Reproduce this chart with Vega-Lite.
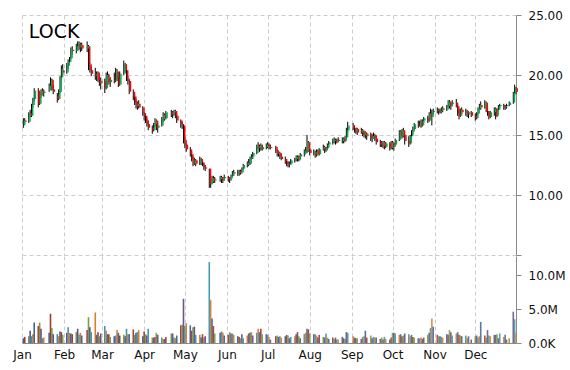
{
  "$schema": "https://vega.github.io/schema/vega-lite/v6.json",
  "padding": {"left": 12, "top": 9, "right": 2, "bottom": 2},
  "background": "white",
  "config": {
    "view": {"stroke": null},
    "font": "DejaVu Sans",
    "axis": {"labelFont": "DejaVu Sans", "labelFontSize": 12, "labelColor": "#111111", "gridColor": "#cccccc", "gridDash": [4, 3], "domainColor": "#8a8a8a", "tickColor": "#8a8a8a", "title": null}
  },
  "data": {"values": [
    {"d":"2014-01-02","o":15.8,"h":16.4,"l":15.6,"c":16.2,"v":0.7},
    {"d":"2014-01-03","o":16.2,"h":16.4,"l":15.9,"c":16.1,"v":0.9},
    {"d":"2014-01-06","o":16.1,"h":16.9,"l":16.0,"c":16.8,"v":1.0},
    {"d":"2014-01-07","o":16.8,"h":17.1,"l":16.5,"c":16.6,"v":1.8},
    {"d":"2014-01-08","o":16.6,"h":17.6,"l":16.5,"c":17.5,"v":1.0},
    {"d":"2014-01-09","o":17.5,"h":18.1,"l":17.3,"c":18.0,"v":1.3},
    {"d":"2014-01-10","o":18.0,"h":18.9,"l":17.8,"c":18.7,"v":3.0},
    {"d":"2014-01-13","o":18.7,"h":18.9,"l":17.3,"c":17.6,"v":2.5},
    {"d":"2014-01-14","o":17.6,"h":18.5,"l":17.5,"c":18.3,"v":3.0},
    {"d":"2014-01-15","o":18.3,"h":18.8,"l":18.1,"c":18.7,"v":2.1},
    {"d":"2014-01-16","o":18.7,"h":18.9,"l":18.3,"c":18.5,"v":0.7},
    {"d":"2014-01-17","o":18.5,"h":18.8,"l":18.2,"c":18.6,"v":0.8},
    {"d":"2014-01-21","o":18.7,"h":19.3,"l":18.6,"c":19.1,"v":1.5},
    {"d":"2014-01-22","o":19.1,"h":19.8,"l":18.9,"c":19.6,"v":4.3},
    {"d":"2014-01-23","o":19.6,"h":19.7,"l":18.7,"c":18.8,"v":2.2},
    {"d":"2014-01-24","o":18.8,"h":19.2,"l":18.4,"c":18.6,"v":1.3},
    {"d":"2014-01-27","o":18.3,"h":18.5,"l":17.7,"c":18.0,"v":1.3},
    {"d":"2014-01-28","o":18.0,"h":18.8,"l":17.9,"c":18.6,"v":1.0},
    {"d":"2014-01-29","o":18.6,"h":19.9,"l":18.5,"c":19.8,"v":1.7},
    {"d":"2014-01-30","o":19.8,"h":20.8,"l":19.6,"c":20.5,"v":1.6},
    {"d":"2014-01-31","o":20.4,"h":20.9,"l":20.0,"c":20.2,"v":1.2},
    {"d":"2014-02-03","o":20.2,"h":21.0,"l":20.1,"c":20.8,"v":1.5},
    {"d":"2014-02-04","o":20.8,"h":21.3,"l":20.5,"c":21.1,"v":2.3},
    {"d":"2014-02-05","o":21.1,"h":21.5,"l":20.8,"c":21.4,"v":1.5},
    {"d":"2014-02-06","o":21.4,"h":22.3,"l":21.3,"c":22.1,"v":1.4},
    {"d":"2014-02-07","o":22.1,"h":22.4,"l":21.7,"c":22.0,"v":1.3},
    {"d":"2014-02-10","o":22.0,"h":22.6,"l":21.8,"c":22.4,"v":1.6},
    {"d":"2014-02-11","o":22.4,"h":22.8,"l":22.0,"c":22.6,"v":2.1},
    {"d":"2014-02-12","o":22.6,"h":22.8,"l":22.1,"c":22.3,"v":1.2},
    {"d":"2014-02-13","o":22.3,"h":22.7,"l":21.9,"c":22.5,"v":1.5},
    {"d":"2014-02-14","o":22.5,"h":22.7,"l":22.0,"c":22.2,"v":1.1},
    {"d":"2014-02-18","o":22.2,"h":22.8,"l":21.9,"c":22.4,"v":1.9},
    {"d":"2014-02-19","o":22.4,"h":22.5,"l":20.4,"c":20.9,"v":3.8},
    {"d":"2014-02-20","o":20.9,"h":21.0,"l":20.2,"c":20.4,"v":2.3},
    {"d":"2014-02-21","o":20.4,"h":20.7,"l":19.9,"c":20.1,"v":1.6},
    {"d":"2014-02-24","o":20.1,"h":20.6,"l":19.6,"c":19.9,"v":4.5},
    {"d":"2014-02-25","o":19.9,"h":20.3,"l":19.5,"c":20.2,"v":1.2},
    {"d":"2014-02-26","o":20.2,"h":20.3,"l":19.4,"c":19.6,"v":1.6},
    {"d":"2014-02-27","o":19.6,"h":19.9,"l":19.1,"c":19.3,"v":1.0},
    {"d":"2014-02-28","o":19.3,"h":19.8,"l":18.8,"c":19.5,"v":1.4},
    {"d":"2014-03-03","o":19.5,"h":19.7,"l":18.5,"c":18.9,"v":2.5},
    {"d":"2014-03-04","o":18.9,"h":20.2,"l":18.8,"c":20.0,"v":1.8},
    {"d":"2014-03-05","o":20.0,"h":20.3,"l":19.6,"c":19.8,"v":1.3},
    {"d":"2014-03-06","o":19.8,"h":20.1,"l":19.2,"c":19.4,"v":1.3},
    {"d":"2014-03-07","o":19.4,"h":19.8,"l":19.0,"c":19.6,"v":0.9},
    {"d":"2014-03-10","o":19.6,"h":20.2,"l":19.3,"c":19.5,"v":1.0},
    {"d":"2014-03-11","o":19.5,"h":20.6,"l":19.4,"c":20.3,"v":1.1},
    {"d":"2014-03-12","o":20.3,"h":20.5,"l":19.5,"c":19.7,"v":1.9},
    {"d":"2014-03-13","o":19.7,"h":19.9,"l":19.0,"c":19.2,"v":1.5},
    {"d":"2014-03-14","o":19.2,"h":20.3,"l":19.1,"c":20.1,"v":1.1},
    {"d":"2014-03-17","o":20.1,"h":21.2,"l":20.0,"c":20.9,"v":1.2},
    {"d":"2014-03-18","o":20.9,"h":21.0,"l":20.2,"c":20.4,"v":1.0},
    {"d":"2014-03-19","o":20.4,"h":20.6,"l":19.5,"c":19.7,"v":2.1},
    {"d":"2014-03-20","o":19.7,"h":19.9,"l":19.2,"c":19.5,"v":1.3},
    {"d":"2014-03-21","o":19.5,"h":19.6,"l":18.4,"c":18.6,"v":1.3},
    {"d":"2014-03-24","o":18.6,"h":18.8,"l":17.9,"c":18.2,"v":2.0},
    {"d":"2014-03-25","o":18.2,"h":18.4,"l":17.5,"c":17.7,"v":1.2},
    {"d":"2014-03-26","o":17.7,"h":18.0,"l":17.2,"c":17.4,"v":1.5},
    {"d":"2014-03-27","o":17.4,"h":17.8,"l":17.1,"c":17.6,"v":1.6},
    {"d":"2014-03-28","o":17.6,"h":17.9,"l":17.2,"c":17.3,"v":1.9},
    {"d":"2014-03-31","o":17.3,"h":17.4,"l":16.6,"c":16.8,"v":1.0},
    {"d":"2014-04-01","o":16.8,"h":16.9,"l":16.2,"c":16.6,"v":1.7},
    {"d":"2014-04-02","o":16.6,"h":16.8,"l":16.0,"c":16.2,"v":1.3},
    {"d":"2014-04-03","o":16.2,"h":16.4,"l":15.7,"c":15.9,"v":1.1},
    {"d":"2014-04-04","o":15.9,"h":16.2,"l":15.4,"c":15.6,"v":2.1},
    {"d":"2014-04-07","o":15.6,"h":15.8,"l":15.1,"c":15.4,"v":0.8},
    {"d":"2014-04-08","o":15.4,"h":16.0,"l":15.3,"c":15.9,"v":0.8},
    {"d":"2014-04-09","o":15.9,"h":16.4,"l":15.7,"c":16.2,"v":0.9},
    {"d":"2014-04-10","o":16.2,"h":16.3,"l":15.4,"c":15.6,"v":1.5},
    {"d":"2014-04-11","o":15.6,"h":16.0,"l":15.2,"c":15.8,"v":1.2},
    {"d":"2014-04-14","o":15.8,"h":16.5,"l":15.7,"c":16.3,"v":0.8},
    {"d":"2014-04-15","o":16.3,"h":16.9,"l":16.1,"c":16.7,"v":0.6},
    {"d":"2014-04-16","o":16.7,"h":16.8,"l":16.2,"c":16.4,"v":0.6},
    {"d":"2014-04-17","o":16.4,"h":17.0,"l":16.3,"c":16.9,"v":0.9},
    {"d":"2014-04-21","o":16.9,"h":17.1,"l":16.5,"c":16.7,"v":1.4},
    {"d":"2014-04-22","o":16.7,"h":17.0,"l":16.4,"c":16.9,"v":1.4},
    {"d":"2014-04-23","o":16.9,"h":17.1,"l":16.6,"c":17.0,"v":0.8},
    {"d":"2014-04-24","o":17.0,"h":17.1,"l":16.4,"c":16.6,"v":0.7},
    {"d":"2014-04-25","o":16.6,"h":16.8,"l":16.0,"c":16.2,"v":1.1},
    {"d":"2014-04-28","o":16.2,"h":16.3,"l":15.6,"c":15.9,"v":2.6},
    {"d":"2014-04-29","o":15.9,"h":16.1,"l":15.5,"c":15.8,"v":2.7},
    {"d":"2014-04-30","o":15.8,"h":15.9,"l":14.3,"c":14.6,"v":6.5},
    {"d":"2014-05-01","o":14.6,"h":14.8,"l":13.9,"c":14.2,"v":2.5},
    {"d":"2014-05-02","o":14.2,"h":14.3,"l":13.6,"c":13.8,"v":2.9},
    {"d":"2014-05-05","o":13.8,"h":14.0,"l":13.2,"c":13.4,"v":2.6},
    {"d":"2014-05-06","o":13.4,"h":13.6,"l":12.8,"c":13.0,"v":1.8},
    {"d":"2014-05-07","o":13.0,"h":13.2,"l":12.4,"c":12.6,"v":2.3},
    {"d":"2014-05-08","o":12.6,"h":13.1,"l":12.5,"c":12.9,"v":2.4},
    {"d":"2014-05-09","o":12.9,"h":13.0,"l":12.4,"c":12.6,"v":1.2},
    {"d":"2014-05-12","o":12.6,"h":13.2,"l":12.5,"c":13.0,"v":1.2},
    {"d":"2014-05-13","o":13.0,"h":13.1,"l":12.5,"c":12.7,"v":0.8},
    {"d":"2014-05-14","o":12.7,"h":12.9,"l":12.4,"c":12.5,"v":1.3},
    {"d":"2014-05-15","o":12.5,"h":12.7,"l":12.1,"c":12.3,"v":0.8},
    {"d":"2014-05-16","o":12.3,"h":12.5,"l":12.0,"c":12.2,"v":1.0},
    {"d":"2014-05-19","o":12.2,"h":12.2,"l":10.6,"c":10.9,"v":11.9},
    {"d":"2014-05-20","o":10.9,"h":11.3,"l":10.6,"c":11.1,"v":6.3},
    {"d":"2014-05-21","o":11.1,"h":11.6,"l":10.9,"c":11.4,"v":3.6},
    {"d":"2014-05-22","o":11.4,"h":11.6,"l":11.0,"c":11.2,"v":2.5},
    {"d":"2014-05-23","o":11.2,"h":11.5,"l":11.0,"c":11.3,"v":1.4},
    {"d":"2014-05-27","o":11.3,"h":11.6,"l":11.1,"c":11.5,"v":1.5},
    {"d":"2014-05-28","o":11.5,"h":11.6,"l":11.0,"c":11.2,"v":1.7},
    {"d":"2014-05-29","o":11.2,"h":11.5,"l":11.0,"c":11.4,"v":1.5},
    {"d":"2014-05-30","o":11.4,"h":11.7,"l":11.2,"c":11.5,"v":1.1},
    {"d":"2014-06-02","o":11.5,"h":11.6,"l":11.1,"c":11.3,"v":1.2},
    {"d":"2014-06-03","o":11.3,"h":11.5,"l":11.0,"c":11.4,"v":1.6},
    {"d":"2014-06-04","o":11.4,"h":11.7,"l":11.2,"c":11.6,"v":1.4},
    {"d":"2014-06-05","o":11.6,"h":12.0,"l":11.5,"c":11.9,"v":1.4},
    {"d":"2014-06-06","o":11.9,"h":12.1,"l":11.6,"c":11.8,"v":1.2},
    {"d":"2014-06-09","o":11.8,"h":12.1,"l":11.6,"c":12.0,"v":1.0},
    {"d":"2014-06-10","o":12.0,"h":12.1,"l":11.6,"c":11.8,"v":0.9},
    {"d":"2014-06-11","o":11.8,"h":12.1,"l":11.7,"c":11.9,"v":0.7},
    {"d":"2014-06-12","o":11.9,"h":12.3,"l":11.8,"c":12.2,"v":1.3},
    {"d":"2014-06-13","o":12.2,"h":12.6,"l":12.1,"c":12.5,"v":0.7},
    {"d":"2014-06-16","o":12.5,"h":12.8,"l":12.3,"c":12.7,"v":1.1},
    {"d":"2014-06-17","o":12.7,"h":13.0,"l":12.4,"c":12.6,"v":1.4},
    {"d":"2014-06-18","o":12.6,"h":13.2,"l":12.5,"c":13.1,"v":1.5},
    {"d":"2014-06-19","o":13.1,"h":13.4,"l":12.9,"c":13.2,"v":1.6},
    {"d":"2014-06-20","o":13.2,"h":13.6,"l":13.0,"c":13.5,"v":1.1},
    {"d":"2014-06-23","o":13.5,"h":14.2,"l":13.4,"c":14.1,"v":1.5},
    {"d":"2014-06-24","o":14.1,"h":14.4,"l":13.8,"c":13.9,"v":2.1},
    {"d":"2014-06-25","o":13.9,"h":14.2,"l":13.6,"c":14.1,"v":1.6},
    {"d":"2014-06-26","o":14.1,"h":14.3,"l":13.7,"c":13.8,"v":2.1},
    {"d":"2014-06-27","o":13.8,"h":14.2,"l":13.7,"c":14.0,"v":1.3},
    {"d":"2014-06-30","o":14.0,"h":14.3,"l":13.8,"c":14.2,"v":1.3},
    {"d":"2014-07-01","o":14.2,"h":14.4,"l":13.9,"c":14.1,"v":1.2},
    {"d":"2014-07-02","o":14.1,"h":14.3,"l":13.8,"c":13.9,"v":0.9},
    {"d":"2014-07-03","o":13.9,"h":14.2,"l":13.8,"c":14.0,"v":0.5},
    {"d":"2014-07-07","o":14.0,"h":14.1,"l":13.5,"c":13.7,"v":1.0},
    {"d":"2014-07-08","o":13.7,"h":13.8,"l":13.2,"c":13.4,"v":1.1},
    {"d":"2014-07-09","o":13.4,"h":13.7,"l":13.2,"c":13.5,"v":0.9},
    {"d":"2014-07-10","o":13.5,"h":13.6,"l":13.0,"c":13.2,"v":1.0},
    {"d":"2014-07-11","o":13.2,"h":13.4,"l":12.9,"c":13.0,"v":0.8},
    {"d":"2014-07-14","o":13.0,"h":13.2,"l":12.6,"c":12.8,"v":1.0},
    {"d":"2014-07-15","o":12.8,"h":13.0,"l":12.4,"c":12.6,"v":1.2},
    {"d":"2014-07-16","o":12.6,"h":12.8,"l":12.3,"c":12.5,"v":1.1},
    {"d":"2014-07-17","o":12.5,"h":12.8,"l":12.3,"c":12.6,"v":0.7},
    {"d":"2014-07-18","o":12.6,"h":13.0,"l":12.5,"c":12.9,"v":0.9},
    {"d":"2014-07-21","o":12.9,"h":13.1,"l":12.7,"c":13.0,"v":1.0},
    {"d":"2014-07-22","o":13.0,"h":13.3,"l":12.8,"c":13.2,"v":1.3},
    {"d":"2014-07-23","o":13.2,"h":13.3,"l":12.8,"c":12.9,"v":1.6},
    {"d":"2014-07-24","o":12.9,"h":13.3,"l":12.8,"c":13.2,"v":1.0},
    {"d":"2014-07-25","o":13.2,"h":13.5,"l":13.0,"c":13.4,"v":0.7},
    {"d":"2014-07-28","o":13.4,"h":13.8,"l":13.2,"c":13.7,"v":1.3},
    {"d":"2014-07-29","o":13.7,"h":14.0,"l":13.4,"c":13.6,"v":1.5},
    {"d":"2014-07-30","o":13.6,"h":15.0,"l":13.5,"c":14.4,"v":2.1},
    {"d":"2014-07-31","o":14.4,"h":14.5,"l":13.6,"c":13.8,"v":2.0},
    {"d":"2014-08-01","o":13.8,"h":13.9,"l":13.3,"c":13.5,"v":1.4},
    {"d":"2014-08-04","o":13.5,"h":13.8,"l":13.3,"c":13.6,"v":1.3},
    {"d":"2014-08-05","o":13.6,"h":13.7,"l":13.1,"c":13.3,"v":1.3},
    {"d":"2014-08-06","o":13.3,"h":13.8,"l":13.2,"c":13.7,"v":1.1},
    {"d":"2014-08-07","o":13.7,"h":13.8,"l":13.3,"c":13.4,"v":0.8},
    {"d":"2014-08-08","o":13.4,"h":13.9,"l":13.3,"c":13.8,"v":1.2},
    {"d":"2014-08-11","o":13.8,"h":14.2,"l":13.7,"c":14.0,"v":0.9},
    {"d":"2014-08-12","o":14.0,"h":14.1,"l":13.5,"c":13.7,"v":0.8},
    {"d":"2014-08-13","o":13.7,"h":14.0,"l":13.6,"c":13.9,"v":1.4},
    {"d":"2014-08-14","o":13.9,"h":14.3,"l":13.8,"c":14.2,"v":0.8},
    {"d":"2014-08-15","o":14.2,"h":14.5,"l":14.0,"c":14.4,"v":0.6},
    {"d":"2014-08-18","o":14.4,"h":14.7,"l":14.2,"c":14.5,"v":0.8},
    {"d":"2014-08-19","o":14.5,"h":14.8,"l":14.3,"c":14.6,"v":0.6},
    {"d":"2014-08-20","o":14.6,"h":14.7,"l":14.2,"c":14.4,"v":0.8},
    {"d":"2014-08-21","o":14.4,"h":14.7,"l":14.3,"c":14.6,"v":0.5},
    {"d":"2014-08-22","o":14.6,"h":14.8,"l":14.4,"c":14.5,"v":0.5},
    {"d":"2014-08-25","o":14.5,"h":14.8,"l":14.3,"c":14.7,"v":0.9},
    {"d":"2014-08-26","o":14.7,"h":14.8,"l":14.3,"c":14.5,"v":0.7},
    {"d":"2014-08-27","o":14.5,"h":14.9,"l":14.4,"c":14.8,"v":0.6},
    {"d":"2014-08-28","o":14.8,"h":15.6,"l":14.7,"c":15.4,"v":1.6},
    {"d":"2014-08-29","o":15.4,"h":16.1,"l":15.2,"c":15.8,"v":1.5},
    {"d":"2014-09-02","o":15.8,"h":16.0,"l":15.4,"c":15.6,"v":1.0},
    {"d":"2014-09-03","o":15.6,"h":15.8,"l":15.2,"c":15.3,"v":0.8},
    {"d":"2014-09-04","o":15.3,"h":15.6,"l":15.1,"c":15.5,"v":0.7},
    {"d":"2014-09-05","o":15.5,"h":15.6,"l":15.0,"c":15.2,"v":0.7},
    {"d":"2014-09-08","o":15.2,"h":15.6,"l":15.1,"c":15.4,"v":0.6},
    {"d":"2014-09-09","o":15.4,"h":15.5,"l":14.9,"c":15.0,"v":0.9},
    {"d":"2014-09-10","o":15.0,"h":15.3,"l":14.8,"c":15.2,"v":1.0},
    {"d":"2014-09-11","o":15.2,"h":15.3,"l":14.7,"c":14.9,"v":1.8},
    {"d":"2014-09-12","o":14.9,"h":15.2,"l":14.6,"c":15.1,"v":0.8},
    {"d":"2014-09-15","o":15.1,"h":15.2,"l":14.5,"c":14.7,"v":1.1},
    {"d":"2014-09-16","o":14.7,"h":15.0,"l":14.4,"c":14.9,"v":0.7},
    {"d":"2014-09-17","o":14.9,"h":15.2,"l":14.7,"c":15.0,"v":0.9},
    {"d":"2014-09-18","o":15.0,"h":15.1,"l":14.5,"c":14.7,"v":0.8},
    {"d":"2014-09-19","o":14.7,"h":14.9,"l":14.2,"c":14.4,"v":0.8},
    {"d":"2014-09-22","o":14.4,"h":14.6,"l":14.0,"c":14.2,"v":0.6},
    {"d":"2014-09-23","o":14.2,"h":14.5,"l":14.0,"c":14.1,"v":0.8},
    {"d":"2014-09-24","o":14.1,"h":14.5,"l":13.9,"c":14.4,"v":0.5},
    {"d":"2014-09-25","o":14.4,"h":14.5,"l":13.8,"c":14.0,"v":0.9},
    {"d":"2014-09-26","o":14.0,"h":14.4,"l":13.9,"c":14.3,"v":0.6},
    {"d":"2014-09-29","o":14.3,"h":14.4,"l":13.7,"c":13.9,"v":0.5},
    {"d":"2014-09-30","o":13.9,"h":14.5,"l":13.8,"c":14.4,"v":0.8},
    {"d":"2014-10-01","o":14.4,"h":14.5,"l":13.8,"c":14.0,"v":1.5},
    {"d":"2014-10-02","o":14.0,"h":14.3,"l":13.7,"c":14.2,"v":1.5},
    {"d":"2014-10-03","o":14.2,"h":14.7,"l":14.1,"c":14.6,"v":1.4},
    {"d":"2014-10-06","o":14.6,"h":15.4,"l":14.5,"c":15.3,"v":1.2},
    {"d":"2014-10-07","o":15.3,"h":15.4,"l":14.8,"c":14.9,"v":1.3},
    {"d":"2014-10-08","o":14.9,"h":15.5,"l":14.7,"c":15.4,"v":1.0},
    {"d":"2014-10-09","o":15.4,"h":15.6,"l":14.8,"c":15.0,"v":1.1},
    {"d":"2014-10-10","o":15.0,"h":15.1,"l":14.2,"c":14.5,"v":1.4},
    {"d":"2014-10-13","o":14.5,"h":14.9,"l":14.0,"c":14.3,"v":1.3},
    {"d":"2014-10-14","o":14.3,"h":15.0,"l":14.2,"c":14.9,"v":1.0},
    {"d":"2014-10-15","o":14.9,"h":15.4,"l":14.6,"c":15.3,"v":1.2},
    {"d":"2014-10-16","o":15.3,"h":15.7,"l":15.1,"c":15.5,"v":0.9},
    {"d":"2014-10-17","o":15.5,"h":16.0,"l":15.4,"c":15.9,"v":0.8},
    {"d":"2014-10-20","o":15.9,"h":16.2,"l":15.6,"c":15.8,"v":0.7},
    {"d":"2014-10-21","o":15.8,"h":16.2,"l":15.7,"c":16.1,"v":0.7},
    {"d":"2014-10-22","o":16.1,"h":16.3,"l":15.6,"c":15.8,"v":0.8},
    {"d":"2014-10-23","o":15.8,"h":16.3,"l":15.7,"c":16.2,"v":0.6},
    {"d":"2014-10-24","o":16.2,"h":16.5,"l":16.0,"c":16.4,"v":0.8},
    {"d":"2014-10-27","o":16.4,"h":16.6,"l":16.0,"c":16.2,"v":1.2},
    {"d":"2014-10-28","o":16.2,"h":16.9,"l":16.1,"c":16.8,"v":1.5},
    {"d":"2014-10-29","o":16.8,"h":17.2,"l":16.3,"c":16.5,"v":2.2},
    {"d":"2014-10-30","o":16.5,"h":17.1,"l":15.8,"c":16.9,"v":3.6},
    {"d":"2014-10-31","o":16.9,"h":17.2,"l":16.7,"c":17.0,"v":2.4},
    {"d":"2014-11-03","o":17.0,"h":17.3,"l":16.8,"c":17.1,"v":1.2},
    {"d":"2014-11-04","o":17.1,"h":17.2,"l":16.7,"c":16.9,"v":1.0},
    {"d":"2014-11-05","o":16.9,"h":17.2,"l":16.8,"c":17.0,"v":1.0},
    {"d":"2014-11-06","o":17.0,"h":17.3,"l":16.8,"c":17.2,"v":0.9},
    {"d":"2014-11-07","o":17.2,"h":17.4,"l":16.9,"c":17.1,"v":0.8},
    {"d":"2014-11-10","o":17.1,"h":17.5,"l":17.0,"c":17.4,"v":1.3},
    {"d":"2014-11-11","o":17.4,"h":17.9,"l":17.3,"c":17.8,"v":1.2},
    {"d":"2014-11-12","o":17.8,"h":17.9,"l":17.2,"c":17.4,"v":1.9},
    {"d":"2014-11-13","o":17.4,"h":17.7,"l":17.1,"c":17.6,"v":1.6},
    {"d":"2014-11-14","o":17.6,"h":17.9,"l":17.4,"c":17.7,"v":1.1},
    {"d":"2014-11-17","o":17.7,"h":18.0,"l":17.3,"c":17.4,"v":1.4},
    {"d":"2014-11-18","o":17.4,"h":17.6,"l":16.6,"c":16.8,"v":1.6},
    {"d":"2014-11-19","o":16.8,"h":17.1,"l":16.3,"c":16.6,"v":1.2},
    {"d":"2014-11-20","o":16.6,"h":17.2,"l":16.5,"c":17.1,"v":1.1},
    {"d":"2014-11-21","o":17.1,"h":17.3,"l":16.7,"c":16.9,"v":1.0},
    {"d":"2014-11-24","o":16.9,"h":17.2,"l":16.6,"c":17.0,"v":1.1},
    {"d":"2014-11-25","o":17.0,"h":17.1,"l":16.5,"c":16.7,"v":0.7},
    {"d":"2014-11-26","o":16.7,"h":17.0,"l":16.4,"c":16.9,"v":1.0},
    {"d":"2014-11-28","o":16.9,"h":17.0,"l":16.5,"c":16.6,"v":0.5},
    {"d":"2014-12-01","o":16.6,"h":16.8,"l":16.2,"c":16.4,"v":1.0},
    {"d":"2014-12-02","o":16.4,"h":16.9,"l":16.3,"c":16.8,"v":1.1},
    {"d":"2014-12-03","o":16.8,"h":17.3,"l":16.7,"c":17.2,"v":0.8},
    {"d":"2014-12-04","o":17.2,"h":17.6,"l":17.0,"c":17.5,"v":1.0},
    {"d":"2014-12-05","o":17.5,"h":17.8,"l":17.1,"c":17.3,"v":3.1},
    {"d":"2014-12-08","o":17.3,"h":17.9,"l":17.2,"c":17.7,"v":1.1},
    {"d":"2014-12-09","o":17.7,"h":17.8,"l":16.9,"c":17.0,"v":0.8},
    {"d":"2014-12-10","o":17.0,"h":17.4,"l":16.6,"c":16.8,"v":1.9},
    {"d":"2014-12-11","o":16.8,"h":17.0,"l":16.3,"c":16.5,"v":1.1},
    {"d":"2014-12-12","o":16.5,"h":17.0,"l":16.4,"c":16.9,"v":1.0},
    {"d":"2014-12-15","o":16.9,"h":17.3,"l":16.6,"c":17.2,"v":1.2},
    {"d":"2014-12-16","o":17.2,"h":17.3,"l":16.3,"c":16.6,"v":1.2},
    {"d":"2014-12-17","o":16.6,"h":17.2,"l":16.5,"c":17.1,"v":1.3},
    {"d":"2014-12-18","o":17.1,"h":17.5,"l":17.0,"c":17.4,"v":0.7},
    {"d":"2014-12-19","o":17.4,"h":17.6,"l":17.2,"c":17.5,"v":1.4},
    {"d":"2014-12-22","o":17.5,"h":17.6,"l":17.1,"c":17.3,"v":0.9},
    {"d":"2014-12-23","o":17.3,"h":17.5,"l":17.1,"c":17.4,"v":1.2},
    {"d":"2014-12-24","o":17.4,"h":17.6,"l":17.2,"c":17.5,"v":0.5},
    {"d":"2014-12-26","o":17.5,"h":17.8,"l":17.4,"c":17.7,"v":0.7},
    {"d":"2014-12-29","o":17.7,"h":18.6,"l":17.6,"c":18.5,"v":4.6},
    {"d":"2014-12-30","o":18.5,"h":19.2,"l":18.3,"c":18.9,"v":3.5},
    {"d":"2014-12-31","o":18.9,"h":19.0,"l":18.4,"c":18.6,"v":1.5}
  ]},
  "spacing": 0,
  "vconcat": [
    {
      "width": 494,
      "height": 240,
      "layer": [
        {
          "mark": {"type": "rule", "color": "#000000", "strokeWidth": 1},
          "encoding": {
            "x": {"field": "d", "type": "temporal",
              "scale": {"domain": [{"year": 2014, "month": 1, "date": 1}, {"year": 2014, "month": 12, "date": 31}]},
              "axis": {"orient": "bottom", "labels": false, "ticks": false, "domain": false, "grid": true, "tickCount": {"interval": "month", "step": 1}}},
            "y": {"field": "l", "type": "quantitative",
              "scale": {"domain": [5, 25], "nice": false, "zero": false},
              "axis": {"orient": "right", "values": [5, 10, 15, 20, 25], "labelExpr": "datum.value == 5 ? '' : format(datum.value, '.2f')", "grid": true, "tickSize": 5, "labelPadding": 7}},
            "y2": {"field": "h"}
          }
        },
        {
          "mark": {"type": "rule", "strokeWidth": 1.5, "xOffset": 1.2},
          "encoding": {
            "x": {"field": "d", "type": "temporal"},
            "y": {"field": "o", "type": "quantitative"},
            "y2": {"field": "c"},
            "color": {"condition": {"test": "datum.c >= datum.o", "value": "#00B050"}, "value": "#FF0000"}
          }
        },
        {
          "data": {"values": [{"label": "LOCK"}]},
          "mark": {"type": "text", "align": "left", "baseline": "alphabetic", "font": "DejaVu Sans", "fontSize": 19, "color": "#000000"},
          "encoding": {
            "x": {"datum": {"year": 2014, "month": 1, "date": 6}, "type": "temporal"},
            "y": {"datum": 23.05, "type": "quantitative"},
            "text": {"field": "label"}
          }
        }
      ]
    },
    {
      "width": 494,
      "height": 87,
      "mark": {"type": "rule", "strokeWidth": 1.6},
      "encoding": {
        "x": {"field": "d", "type": "temporal",
          "scale": {"domain": [{"year": 2014, "month": 1, "date": 1}, {"year": 2014, "month": 12, "date": 31}]},
          "axis": {"orient": "bottom", "format": "%b", "tickCount": {"interval": "month", "step": 1}, "grid": true, "ticks": false, "domain": true, "labelPadding": 6, "labelOverlap": false, "labelFlush": false}},
        "y": {"field": "v", "type": "quantitative",
          "scale": {"domain": [0, 12.8], "nice": false},
          "axis": {"orient": "right", "values": [0, 5, 10], "labelExpr": "datum.value == 0 ? '0.0K' : format(datum.value, '.1f') + 'M'", "grid": false, "tickSize": 5, "labelPadding": 7}},
        "y2": {"datum": 0},
        "color": {"field": "d", "type": "ordinal", "legend": null,
          "scale": {"range": ["#3B6496", "#9E3A37", "#7B9A3E", "#634D84", "#3795AD", "#D97A2B"]}},
        "opacity": {"field": "d", "type": "temporal", "legend": null,
          "scale": {"domain": [{"year": 2014, "month": 1, "date": 1}, {"year": 2014, "month": 7, "date": 1}, {"year": 2014, "month": 12, "date": 31}], "range": [1, 0.85, 0.3]}}
      }
    }
  ]
}
